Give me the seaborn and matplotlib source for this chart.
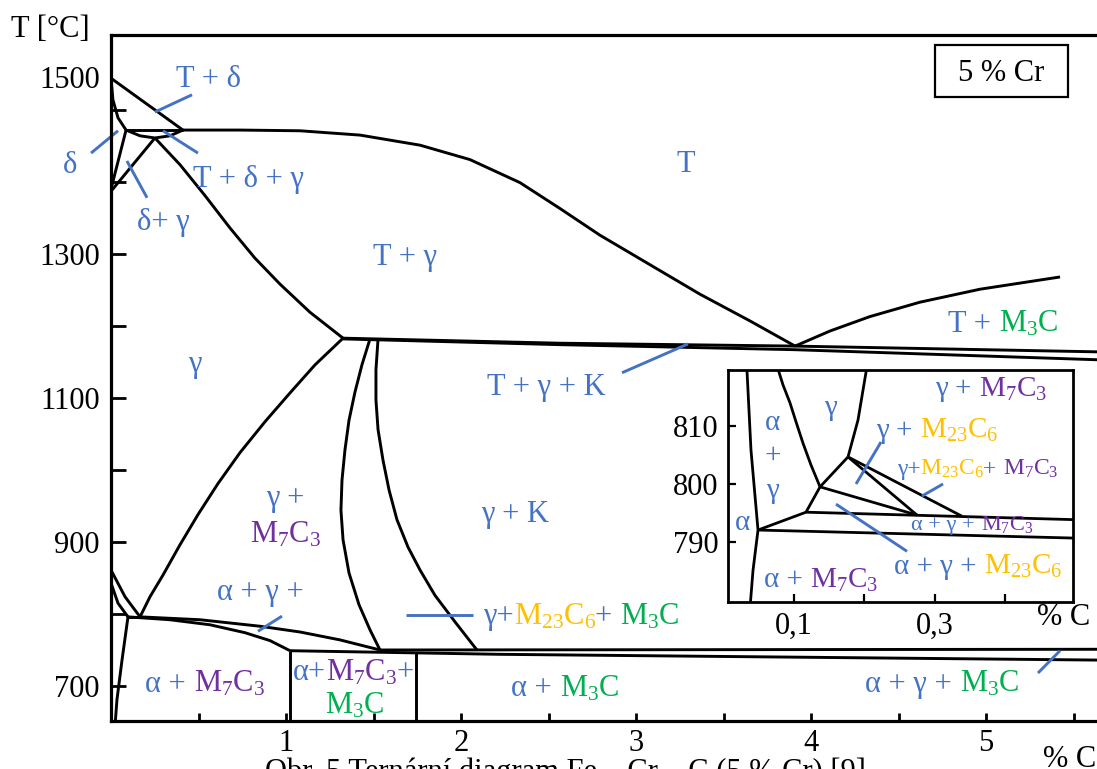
import matplotlib
matplotlib.use("Agg")
import matplotlib.pyplot as plt
import matplotlib.transforms as mtransforms
from matplotlib.patches import Rectangle
import numpy as np
import pandas as pd
import seaborn as sns

BLUE = "#4472C4"
PURPLE = "#7030A0"
ORANGE = "#FFC000"
GREEN = "#00B050"
INK = "black"

M7C3 = r"M$_\mathrm{7}$C$_\mathrm{3}$"
M23C6 = r"M$_\mathrm{23}$C$_\mathrm{6}$"
M3C = r"M$_\mathrm{3}$C"

# ---------------- main diagram: phase boundaries (% C, T in °C) ----------------
delta_liquidus_c = [0.0, 0.411]
delta_liquidus_t = [1544, 1472]
delta_solidus_c = [0.0, 0.011, 0.040, 0.086]
delta_solidus_t = [1544, 1514, 1489, 1472]
peritectic_c = [0.086, 0.411]
peritectic_t = [1472, 1472]
peritectic_lower_c = [0.086, 0.166, 0.251, 0.337, 0.411]
peritectic_lower_t = [1472, 1464, 1461, 1464, 1472]
delta_gamma_left_c = [0.086, 0.0]
delta_gamma_left_t = [1472, 1390]
delta_gamma_right_c = [0.251, 0.0]
delta_gamma_right_t = [1461, 1387]
gamma_liquidus_c = [0.411, 0.737, 1.080, 1.423, 1.766, 2.051, 2.337, 2.566,
                    2.794, 3.080, 3.366, 3.651, 3.909]
gamma_liquidus_t = [1472, 1472, 1471, 1465, 1451, 1431, 1399, 1363,
                    1326, 1285, 1244, 1207, 1172]
gamma_solidus_c = [0.251, 0.394, 0.537, 0.680, 0.823, 0.966, 1.137, 1.326]
gamma_solidus_t = [1461, 1424, 1381, 1336, 1294, 1258, 1219, 1183]
m3c_liquidus_c = [3.909, 4.109, 4.337, 4.623, 4.966, 5.423]
m3c_liquidus_t = [1172, 1193, 1213, 1233, 1251, 1268]
eutectic_upper_c = [1.326, 2.566, 3.909, 5.640]
eutectic_upper_t = [1183, 1176, 1172, 1164]
eutectic_lower_c = [1.326, 2.566, 3.909, 5.640]
eutectic_lower_t = [1182, 1174, 1167, 1153]
gamma_m7c3_c = [1.326, 1.166, 1.023, 0.880, 0.737, 0.611, 0.497, 0.394,
                0.297, 0.223, 0.166]
gamma_m7c3_t = [1183, 1146, 1107, 1067, 1024, 981, 938, 896, 854, 824, 796]
m7c3_left_c = [1.480, 1.434, 1.394, 1.360, 1.337, 1.320, 1.314, 1.326,
               1.360, 1.417, 1.480, 1.537]
m7c3_left_t = [1182, 1146, 1108, 1069, 1028, 986, 944, 903, 857, 813, 778, 750]
m3c_right_c = [1.526, 1.514, 1.514, 1.526, 1.554, 1.589, 1.634, 1.697,
               1.766, 1.851, 1.966, 2.091]
m3c_right_t = [1182, 1139, 1097, 1056, 1014, 972, 931, 893, 861, 826, 789, 750]
alpha_gamma_upper_c = [0.0, 0.080, 0.166]
alpha_gamma_upper_t = [861, 824, 796]
alpha_gamma_lower_c = [0.0, 0.040, 0.097]
alpha_gamma_lower_t = [843, 815, 796]
eutectoid_tie_c = [0.097, 0.166]
eutectoid_tie_t = [796, 796]
alpha_solvus_c = [0.097, 0.063, 0.034, 0.023]
alpha_solvus_t = [796, 736, 681, 645]
three_phase_upper_c = [0.166, 0.509, 0.851, 1.080, 1.309, 1.537]
three_phase_upper_t = [796, 792, 783, 775, 764, 750]
three_phase_lower_c = [0.097, 0.337, 0.566, 0.766, 0.909, 1.023]
three_phase_lower_t = [796, 792, 785, 774, 763, 749]
eutectoid_upper_c = [1.537, 5.640]
eutectoid_upper_t = [750, 751]
eutectoid_lower_c = [1.023, 2.223, 5.640]
eutectoid_lower_t = [749, 744, 736]
carbide_split_1_c = [1.023, 1.023]
carbide_split_1_t = [749, 645]
carbide_split_2_c = [1.743, 1.743]
carbide_split_2_t = [747, 645]

# leader lines for the phase-field labels
lead_t_delta_c, lead_t_delta_t = [0.251, 0.463], [1497, 1521]
lead_delta_c, lead_delta_t = [-0.114, 0.040], [1440, 1471]
lead_t_delta_gamma_c, lead_t_delta_gamma_t = [0.297, 0.497], [1471, 1440]
lead_delta_gamma_c, lead_delta_gamma_t = [0.091, 0.206], [1429, 1378]
lead_t_gamma_k_c, lead_t_gamma_k_t = [2.920, 3.297], [1135, 1175]
lead_g_m23_m3_c, lead_g_m23_m3_t = [1.686, 2.069], [799, 799]
lead_a_g_m7_c, lead_a_g_m7_t = [0.840, 0.977], [776, 797]
lead_a_g_m3_c, lead_a_g_m3_t = [5.297, 5.423], [718, 749]

# ---------------- detail window around 800 °C ----------------
in_alpha_c = [0.0325, 0.0387, 0.0487, 0.0416, 0.0370]
in_alpha_t = [821.0, 805.9, 792.0, 785.0, 778.0]
in_gamma_left_c = [0.0745, 0.0843, 0.0942, 0.1028, 0.1127, 0.1241, 0.1370]
in_gamma_left_t = [821.0, 817.2, 814.1, 810.8, 807.1, 803.3, 799.5]
in_gamma_right_c = [0.2046, 0.1910, 0.1768]
in_gamma_right_t = [821.0, 811.1, 804.7]
in_apex_b_c, in_apex_b_t = [0.1768, 0.1370], [804.7, 799.5]
in_b_c_c, in_b_c_t = [0.1370, 0.2750], [799.5, 794.6]
in_apex_c_c, in_apex_c_t = [0.1768, 0.2750], [804.7, 794.6]
in_apex_d_c, in_apex_d_t = [0.1768, 0.3390], [804.7, 794.4]
in_b_e_c, in_b_e_t = [0.1370, 0.1170], [799.5, 795.1]
in_upper_c, in_upper_t = [0.1170, 0.5000], [795.1, 793.8]
in_f_e_c, in_f_e_t = [0.0487, 0.1170], [792.0, 795.1]
in_lower_c, in_lower_t = [0.0487, 0.5000], [792.0, 790.6]

in_lead_1_c, in_lead_1_t = [0.2238, 0.1882], [807.3, 800.0]
in_lead_2_c, in_lead_2_t = [0.3120, 0.2820], [800.0, 797.9]
in_lead_3_c, in_lead_3_t = [0.1597, 0.2608], [796.5, 788.3]

main_ticks = [700, 900, 1100, 1300]
main_minor_ticks = [800, 1000, 1200, 1400, 1500]
x_ticks = [1, 2, 3, 4, 5]
inset_y_ticks = [790, 800, 810]
inset_x_ticks = [0.1, 0.2, 0.3, 0.4]
inset_x_labels = ["0,1", "", "0,3", ""]

sns.set_theme(style="white")
plt.rcParams["font.family"] = ["Liberation Serif", "DejaVu Serif"]
plt.rcParams["mathtext.fontset"] = "custom"
plt.rcParams["mathtext.rm"] = "Liberation Serif"
plt.rcParams["mathtext.it"] = "Liberation Serif:italic"
plt.rcParams["mathtext.bf"] = "Liberation Serif:bold"

W, H = 1097, 769
fig = plt.figure(figsize=(W / 100, H / 100), dpi=100)
fig.patch.set_facecolor("white")
ax = fig.add_axes([111 / W, 48 / H, (W - 111) / W, 686 / H])
ax.set_facecolor("white")


def frame(curves):
    return pd.concat(
        [pd.DataFrame({"c": c, "t": t, "curve": name}) for name, (c, t) in curves.items()],
        ignore_index=True,
    )


def draw_curves(axis, curves, color, lw, clip=True):
    n0 = len(axis.lines)
    sns.lineplot(data=frame(curves), x="c", y="t", units="curve", estimator=None,
                 sort=False, color=color, linewidth=lw, ax=axis, legend=False)
    for ln in axis.lines[n0:]:
        ln.set_solid_capstyle("butt")
        ln.set_solid_joinstyle("round")
        ln.set_clip_on(clip)
    axis.set_xlabel("")
    axis.set_ylabel("")


def put_label(axis, x, y, parts, size=22, ha="center", transform=None):
    renderer = fig.canvas.get_renderer()
    base = transform if transform is not None else axis.transData
    probe = fig.text(0, 0, "|", fontsize=size)
    bar_w = probe.get_window_extent(renderer).width
    widths = []
    for s, _ in parts:
        probe.set_text(s + "|")
        widths.append(probe.get_window_extent(renderer).width - bar_w)
    probe.remove()
    total = sum(widths)
    dx = {"center": -total / 2, "left": 0.0, "right": -total}[ha]
    dy = -0.33 * size / 72 * fig.dpi
    for (s, c), w in zip(parts, widths):
        tr = base + mtransforms.ScaledTranslation(dx / fig.dpi, dy / fig.dpi, fig.dpi_scale_trans)
        axis.text(x, y, s, color=c, fontsize=size, transform=tr, ha="left",
                  va="baseline", zorder=6, clip_on=False)
        dx += w


main_curves = {
    "delta_liquidus": (delta_liquidus_c, delta_liquidus_t),
    "delta_solidus": (delta_solidus_c, delta_solidus_t),
    "peritectic": (peritectic_c, peritectic_t),
    "peritectic_lower": (peritectic_lower_c, peritectic_lower_t),
    "delta_gamma_left": (delta_gamma_left_c, delta_gamma_left_t),
    "delta_gamma_right": (delta_gamma_right_c, delta_gamma_right_t),
    "gamma_liquidus": (gamma_liquidus_c, gamma_liquidus_t),
    "gamma_solidus": (gamma_solidus_c, gamma_solidus_t),
    "m3c_liquidus": (m3c_liquidus_c, m3c_liquidus_t),
    "eutectic_upper": (eutectic_upper_c, eutectic_upper_t),
    "eutectic_lower": (eutectic_lower_c, eutectic_lower_t),
    "gamma_m7c3": (gamma_m7c3_c, gamma_m7c3_t),
    "m7c3_left": (m7c3_left_c, m7c3_left_t),
    "m3c_right": (m3c_right_c, m3c_right_t),
    "alpha_gamma_upper": (alpha_gamma_upper_c, alpha_gamma_upper_t),
    "alpha_gamma_lower": (alpha_gamma_lower_c, alpha_gamma_lower_t),
    "eutectoid_tie": (eutectoid_tie_c, eutectoid_tie_t),
    "alpha_solvus": (alpha_solvus_c, alpha_solvus_t),
    "three_phase_upper": (three_phase_upper_c, three_phase_upper_t),
    "three_phase_lower": (three_phase_lower_c, three_phase_lower_t),
    "eutectoid_upper": (eutectoid_upper_c, eutectoid_upper_t),
    "eutectoid_lower": (eutectoid_lower_c, eutectoid_lower_t),
    "carbide_split_1": (carbide_split_1_c, carbide_split_1_t),
    "carbide_split_2": (carbide_split_2_c, carbide_split_2_t),
}
main_leads = {
    "t_delta": (lead_t_delta_c, lead_t_delta_t),
    "delta": (lead_delta_c, lead_delta_t),
    "t_delta_gamma": (lead_t_delta_gamma_c, lead_t_delta_gamma_t),
    "delta_gamma": (lead_delta_gamma_c, lead_delta_gamma_t),
    "t_gamma_k": (lead_t_gamma_k_c, lead_t_gamma_k_t),
    "g_m23_m3": (lead_g_m23_m3_c, lead_g_m23_m3_t),
    "a_g_m7": (lead_a_g_m7_c, lead_a_g_m7_t),
    "a_g_m3": (lead_a_g_m3_c, lead_a_g_m3_t),
}
draw_curves(ax, main_curves, INK, 2.1)
draw_curves(ax, main_leads, BLUE, 2.1, clip=False)

ax.set_xlim(0, (W - 111) / 175)
ax.set_ylim(651.4, 1604)
ax.set_xticks(x_ticks)
ax.set_xticklabels([str(v) for v in x_ticks], fontsize=22)
ax.set_xticks(np.arange(0.5, 5.6, 1.0), minor=True)
ax.set_yticks(main_ticks)
ax.set_yticklabels([str(v) for v in main_ticks], fontsize=22)
ax.set_yticks(main_minor_ticks, minor=True)
ax.tick_params(axis="x", which="both", direction="in", length=6, width=2,
               bottom=True, top=False, pad=6, colors=INK)
ax.tick_params(axis="y", which="both", direction="in", length=11, width=2,
               left=True, right=False, pad=8, colors=INK)
for side in ("top", "left", "bottom"):
    ax.spines[side].set_visible(True)
    ax.spines[side].set_linewidth(2.3)
    ax.spines[side].set_color(INK)
ax.spines["right"].set_visible(False)

# 1500 label sits above its tick in this drawing
put_label(ax, -0.063, 1544, [("1500", INK)], ha="right")

# phase-field labels
put_label(ax, 0.56, 1546, [("T + δ", BLUE)])
put_label(ax, -0.234, 1426, [("δ", BLUE)])
put_label(ax, 0.783, 1407, [("T + δ + γ", BLUE)])
put_label(ax, 0.297, 1347, [("δ+ γ", BLUE)])
put_label(ax, 3.286, 1428, [("T", BLUE)])
put_label(ax, 1.68, 1299, [("T + γ", BLUE)])
put_label(ax, 0.48, 1150, [("γ", BLUE)])
put_label(ax, 2.486, 1118, [("T + γ + K", BLUE)])
put_label(ax, 5.097, 1206, [("T + ", BLUE), (M3C, GREEN)])
put_label(ax, 0.994, 964, [("γ +", BLUE)])
put_label(ax, 0.994, 913, [(M7C3, PURPLE)])
put_label(ax, 2.309, 942, [("γ + K", BLUE)])
put_label(ax, 0.851, 833, [("α + γ +", BLUE)])
put_label(ax, 2.126, 800, [("γ+", BLUE), (M23C6, ORANGE), ("+ ", BLUE), (M3C, GREEN)], ha="left")
put_label(ax, 0.537, 706, [("α + ", BLUE), (M7C3, PURPLE)])
put_label(ax, 1.383, 722, [("α+", BLUE), (M7C3, PURPLE), ("+", BLUE)])
put_label(ax, 1.394, 676, [(M3C, GREEN)])
put_label(ax, 2.594, 700, [("α + ", BLUE), (M3C, GREEN)])
put_label(ax, 4.749, 706, [("α + γ + ", BLUE), (M3C, GREEN)])

# chromium content box
ax.add_patch(Rectangle((0.8357, 0.9096), 0.1349, 0.0758, transform=ax.transAxes,
                       fill=False, lw=1.6, edgecolor=INK, clip_on=False, zorder=5))
put_label(ax, 0.9031, 0.9475, [("5 % Cr", INK)], transform=ax.transAxes)

# axis captions and figure caption
put_label(ax, 50 / W, 1 - 27 / H, [("T [°C]", INK)], transform=fig.transFigure)
put_label(ax, 1070 / W, 1 - 757 / H, [("% C", INK)], transform=fig.transFigure)
put_label(ax, 565 / W, 1 - 770 / H,
          [("Obr. 5 Ternární diagram Fe – Cr – C (5 % Cr) [9]", INK)],
          transform=fig.transFigure)

# ---------------- detail window ----------------
axin = fig.add_axes([728 / W, 1 - 602 / H, 345 / W, 232 / H])
axin.set_facecolor("white")
axin.set_zorder(3)
inset_curves = {
    "alpha": (in_alpha_c, in_alpha_t),
    "gamma_left": (in_gamma_left_c, in_gamma_left_t),
    "gamma_right": (in_gamma_right_c, in_gamma_right_t),
    "apex_b": (in_apex_b_c, in_apex_b_t),
    "b_c": (in_b_c_c, in_b_c_t),
    "apex_c": (in_apex_c_c, in_apex_c_t),
    "apex_d": (in_apex_d_c, in_apex_d_t),
    "b_e": (in_b_e_c, in_b_e_t),
    "upper": (in_upper_c, in_upper_t),
    "f_e": (in_f_e_c, in_f_e_t),
    "lower": (in_lower_c, in_lower_t),
}
inset_leads = {
    "l1": (in_lead_1_c, in_lead_1_t),
    "l2": (in_lead_2_c, in_lead_2_t),
    "l3": (in_lead_3_c, in_lead_3_t),
}
draw_curves(axin, inset_curves, INK, 2.0)
draw_curves(axin, inset_leads, BLUE, 2.1)
axin.set_xlim(0.006, 0.497)
axin.set_ylim(779.5, 819.8)
axin.set_xticks(inset_x_ticks)
axin.set_xticklabels(inset_x_labels, fontsize=22)
axin.set_yticks(inset_y_ticks)
axin.set_yticklabels([str(v) for v in inset_y_ticks], fontsize=22)
axin.tick_params(axis="both", direction="in", length=6, width=1.6, colors=INK,
                 bottom=True, left=True, top=False, right=False, pad=7)
for side in axin.spines.values():
    side.set_visible(True)
    side.set_linewidth(2.0)
    side.set_color(INK)

put_label(axin, 0.070, 811.1, [("α", BLUE)], size=21)
put_label(axin, 0.070, 805.4, [("+", BLUE)], size=21)
put_label(axin, 0.070, 799.3, [("γ", BLUE)], size=21)
put_label(axin, 0.1515, 813.7, [("γ", BLUE)], size=21)
put_label(axin, 0.026, 793.7, [("α", BLUE)], size=21)
put_label(axin, 0.380, 816.9, [("γ + ", BLUE), (M7C3, PURPLE)], size=21)
put_label(axin, 0.3035, 809.7, [("γ + ", BLUE), (M23C6, ORANGE)], size=21)
put_label(axin, 0.3605, 803.0, [("γ+", BLUE), (M23C6, ORANGE), ("+ ", BLUE), (M7C3, PURPLE)], size=17)
put_label(axin, 0.3533, 793.2, [("α + γ + ", BLUE), (M7C3, PURPLE)], size=16)
put_label(axin, 0.362, 786.1, [("α + γ + ", BLUE), (M23C6, ORANGE)], size=21)
put_label(axin, 0.1384, 783.7, [("α + ", BLUE), (M7C3, PURPLE)], size=21)
put_label(axin, 0.483, 777.2, [("% C", INK)], size=22)

fig.savefig("out.png", dpi=100, facecolor="white")
